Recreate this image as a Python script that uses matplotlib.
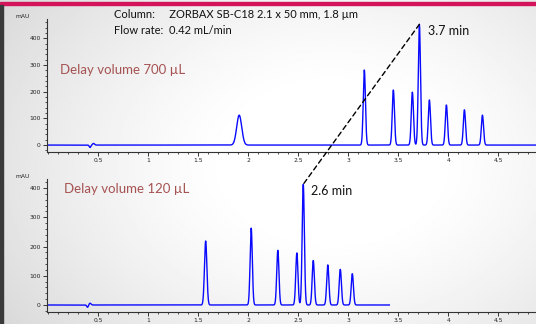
import numpy as np
import matplotlib.pyplot as plt
from matplotlib.patches import ConnectionPatch
from matplotlib.ticker import MultipleLocator

plt.rcParams['font.family'] = ['Lato', 'DejaVu Sans']

# peak tables: retention time (min), height (mAU), width (sigma, min)
rt_700 = [0.42, 0.455, 1.91, 3.16, 3.45, 3.64, 3.71, 3.81, 3.98, 4.16, 4.34]
h_700 = [-9, 6, 112, 281, 206, 198, 452, 169, 150, 132, 112]
w_700 = [0.008, 0.01, 0.025, 0.011, 0.011, 0.011, 0.011, 0.011, 0.011, 0.011, 0.011]

rt_120 = [0.395, 0.42, 1.575, 2.03, 2.296, 2.486, 2.55, 2.65, 2.795, 2.92, 3.04]
h_120 = [-8, 6, 219, 263, 187, 178, 413, 152, 137, 122, 107]
w_120 = [0.008, 0.01, 0.012, 0.011, 0.011, 0.011, 0.011, 0.011, 0.011, 0.011, 0.011]

end_700 = 4.875
end_120 = 3.41

xticks = [0.5, 1, 1.5, 2, 2.5, 3, 3.5, 4, 4.5]
yticks = [0, 100, 200, 300, 400]


def trace(rt, h, w, t_end):
    t = np.linspace(0, t_end, 4000)
    y = np.zeros_like(t)
    for r, a, s in zip(rt, h, w):
        y += a * np.exp(-0.5 * ((t - r) / s) ** 2)
    return t, y


fig = plt.figure(figsize=(5.36, 3.24), dpi=100)

# background: grey on the left fading to white
bg = fig.add_axes([0, 0, 1, 1])
gx = np.linspace(0, 1, 300)
gy = np.linspace(0, 1, 200)
X, Y = np.meshgrid(gx, gy)
d = np.sqrt(((X - 0.62) / 0.75) ** 2 + ((Y - 0.5) / 0.9) ** 2)
shade = 1 - 0.22 * np.clip(d - 0.25, 0, 1) ** 1.3
bg.imshow(shade, cmap='gray', vmin=0, vmax=1, extent=[0, 1, 0, 1], aspect='auto')
bg.axhspan(0.985, 0.994, color='#d4145a')
bg.axvspan(0, 0.005, ymax=0.985, color='#3a3a3a')
bg.set_xlim(0, 1)
bg.set_ylim(0, 1)
bg.axis('off')

ax1 = fig.add_axes([47 / 536, 1 - 152 / 324, 489 / 536, 133 / 324])
ax2 = fig.add_axes([47 / 536, 1 - 312 / 324, 489 / 536, 133 / 324])

for ax, (rt, h, w, te), ylim in [(ax1, (rt_700, h_700, w_700, end_700), (-26, 472)),
                                 (ax2, (rt_120, h_120, w_120, end_120), (-24, 431))]:
    t, y = trace(rt, h, w, te)
    ax.plot(t, y, color='#0a0aff', lw=1.0)
    ax.set_xlim(-0.01, 4.875)
    ax.set_ylim(*ylim)
    ax.patch.set_alpha(0)
    for s in ['top', 'right']:
        ax.spines[s].set_visible(False)
    ax.spines['left'].set_color('#333333')
    ax.spines['bottom'].set_color('#333333')
    ax.spines['left'].set_linewidth(0.8)
    ax.spines['bottom'].set_linewidth(0.8)
    ax.set_xticks(xticks)
    ax.set_xticklabels([f'{v:g}' for v in xticks], family='DejaVu Sans')
    ax.set_yticks(yticks)
    ax.set_yticklabels([str(v) for v in yticks], family='DejaVu Sans')
    ax.xaxis.set_minor_locator(MultipleLocator(0.1))
    ax.yaxis.set_minor_locator(MultipleLocator(20))
    ax.tick_params(labelsize=4.3, length=3, width=0.7, color='#333333', pad=1.5, labelcolor='#222222')
    ax.tick_params(which='minor', length=1.5, width=0.6, color='#333333')
    ax.text(-0.035, 1.0, 'mAU', transform=ax.transAxes, fontsize=4.3, ha='right', va='bottom',
            color='#222222', family='DejaVu Sans')

fig.text(114 / 536, 1 - 15 / 324, 'Column:     ZORBAX SB-C18 2.1 x 50 mm, 1.8 µm', fontsize=8,
         va='center', color='#111111')
fig.text(114 / 536, 1 - 31 / 324, 'Flow rate:  0.42 mL/min', fontsize=8, va='center', color='#111111')
fig.text(60 / 536, 1 - 70 / 324, 'Delay volume 700 µL', fontsize=9.5, va='center', color='#a65252')
fig.text(64 / 536, 1 - 189 / 324, 'Delay volume 120 µL', fontsize=9.5, va='center', color='#a65252')
fig.text(428 / 536, 1 - 31 / 324, '3.7 min', fontsize=9, va='center', color='#111111')
fig.text(311 / 536, 1 - 191 / 324, '2.6 min', fontsize=9, va='center', color='#111111')

con = ConnectionPatch(xyA=(3.71, 452), coordsA=ax1.transData,
                      xyB=(2.55, 413), coordsB=ax2.transData,
                      color='black', lw=1, linestyle=(0, (3.5, 2.5)))
fig.add_artist(con)

fig.savefig('out.png', dpi=100)
